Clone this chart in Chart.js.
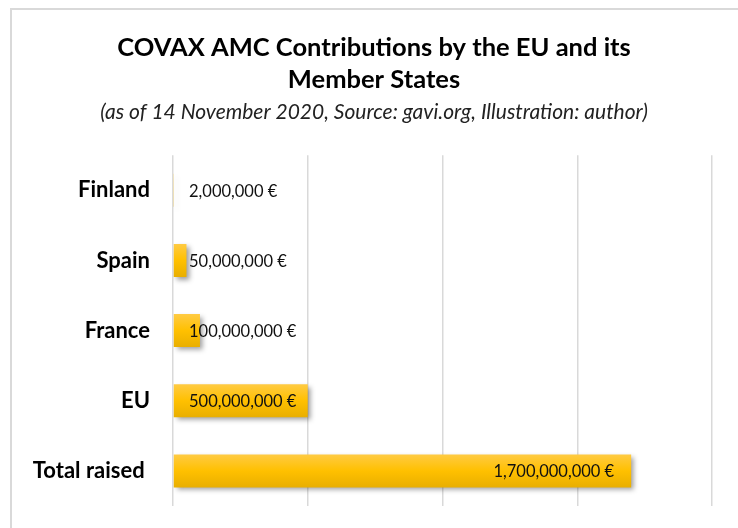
<!DOCTYPE html>
<html>
<head>
<meta charset="utf-8">
<script src="https://cdn.jsdelivr.net/npm/chart.js@4"></script>
<style>
  html, body { margin: 0; padding: 0; background: #fff; }
  #wrap { position: relative; width: 738px; height: 528px; }
  #frame { position: absolute; left: 10px; top: 8px; right: -4px; bottom: -4px;
           border-left: 2px solid #d9d9d9; border-top: 2px solid #d9d9d9; }
  canvas { position: absolute; left: 0; top: 0; }
</style>
</head>
<body>
<div id="wrap">
  <div id="frame"></div>
  <canvas id="c" width="738" height="528"></canvas>
</div>
<script>
// COVAX AMC contributions

const categories = ['Finland', 'Spain', 'France', 'EU', 'Total raised '];
const contributions = [2000000, 50000000, 100000000, 500000000, 1700000000];
const xMax = 2000000000;
const xStep = 500000000;

const FONT = 'Lato, "Open Sans", sans-serif';
const BAR_PCT = 0.47;

function fmtEuro(v) {
  return v.toLocaleString('en-US') + ' €';
}

// vertical gold gradient for each bar
function barFill(c) {
  const chart = c.chart;
  const y = chart.scales && chart.scales.y;
  if (!y || c.dataIndex === undefined) return '#FFC000';
  const py = y.getPixelForValue(c.dataIndex);
  if (!isFinite(py)) return '#FFC000';
  const half = 17;
  const g = chart.ctx.createLinearGradient(0, py - half, 0, py + half);
  g.addColorStop(0, '#FFCB45');
  g.addColorStop(0.5, '#FFC000');
  g.addColorStop(1, '#E8AE00');
  return g;
}

const shadowPlugin = {
  id: 'shadow',
  beforeDatasetsDraw(chart) {
    const ctx = chart.ctx;
    ctx.save();
    ctx.shadowColor = 'rgba(0,0,0,0.38)';
    ctx.shadowBlur = 5;
    ctx.shadowOffsetX = 3;
    ctx.shadowOffsetY = 3;
  },
  afterDatasetsDraw(chart) {
    chart.ctx.restore();
  }
};

// labels: inside end when they fit, otherwise from the bar base
const valueLabels = {
  id: 'valueLabels',
  afterDatasetsDraw(chart) {
    const ctx = chart.ctx;
    const meta = chart.getDatasetMeta(0);
    const x0 = chart.scales.x.getPixelForValue(0);
    ctx.save();
    ctx.font = '16.5px ' + FONT;
    ctx.fillStyle = '#111';
    ctx.textBaseline = 'middle';
    ctx.textAlign = 'left';
    meta.data.forEach((bar, i) => {
      const txt = fmtEuro(contributions[i]);
      const w = ctx.measureText(txt).width;
      const x = Math.max(x0 + 16, bar.x - 17 - w);
      ctx.fillText(txt, x, bar.y + 1);
    });
    ctx.restore();
  }
};

new Chart(document.getElementById('c').getContext('2d'), {
  type: 'bar',
  data: {
    labels: categories,
    datasets: [{
      data: contributions,
      backgroundColor: barFill,
      borderWidth: 0,
      categoryPercentage: 1,
      barPercentage: BAR_PCT
    }]
  },
  options: {
    indexAxis: 'y',
    responsive: false,
    animation: false,
    layout: { padding: { left: 10, right: 0, top: 0, bottom: 22 } },
    plugins: {
      legend: { display: false },
      tooltip: { enabled: false },
      title: {
        display: true,
        text: ['COVAX AMC Contributions by the EU and its', 'Member States'],
        color: '#000',
        font: { family: FONT, size: 25.5, weight: 'bold', lineHeight: 1.255 },
        padding: { top: 32, bottom: 4 }
      },
      subtitle: {
        display: true,
        text: '(as of 14 November 2020, Source: gavi.org, Illustration: author)',
        color: '#222',
        font: { family: FONT, size: 21, style: 'italic', lineHeight: 1.2 },
        padding: { top: 0, bottom: 30 }
      }
    },
    scales: {
      x: {
        min: 0,
        max: xMax,
        ticks: { display: false, stepSize: xStep },
        grid: { color: '#d9d9d9', lineWidth: 1.5, drawTicks: false },
        border: { display: false },
        afterFit(s) { s.height = 0; }
      },
      y: {
        ticks: {
          color: '#000',
          padding: 0,
          font: { family: FONT, size: 22, weight: 'bold' }
        },
        grid: { display: false, drawTicks: true, tickLength: 23, tickColor: 'rgba(0,0,0,0)' },
        border: { display: false },
        afterFit(s) { s.width = 163; }
      },
      // empty strip on the right so the plot ends where the reference does
      yRight: {
        type: 'linear',
        axis: 'y',
        position: 'right',
        ticks: { display: false },
        grid: { display: false, drawTicks: false },
        border: { display: false },
        afterFit(s) { s.width = 26; }
      }
    }
  },
  plugins: [shadowPlugin, valueLabels]
});
</script>
</body>
</html>
